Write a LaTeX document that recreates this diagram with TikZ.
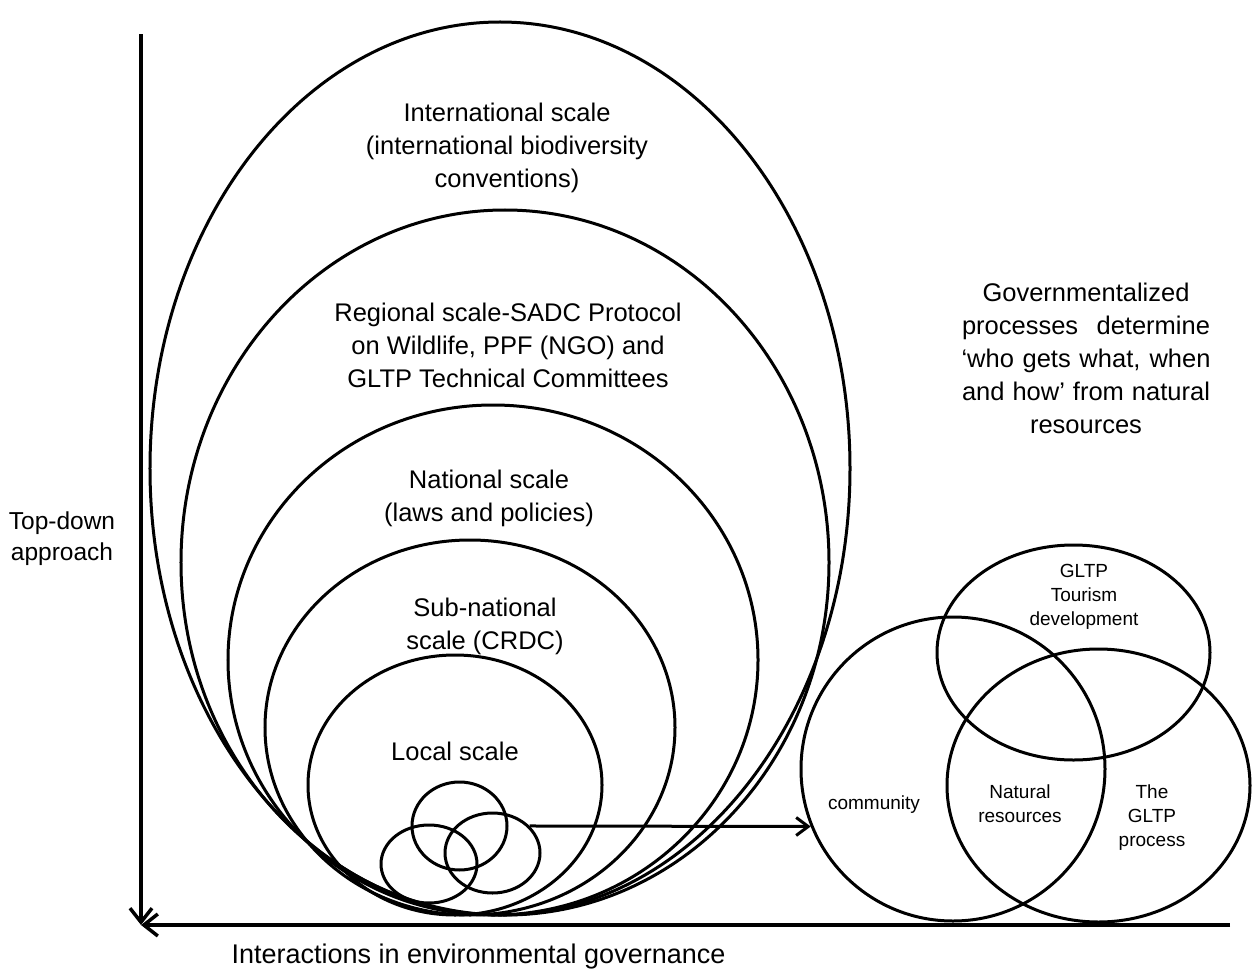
\documentclass[tikz,border=0pt]{standalone}
\usepackage{fontspec}
\setmainfont{Liberation Sans}
\usetikzlibrary{shapes.geometric,arrows.meta}
% a line spread to a given width
\newcommand{\spreadline}[2]{\makebox[#1bp][s]{#2}}
\begin{document}
\begin{tikzpicture}[x={(1bp,0)}, y={(0,-1bp)},
  ring/.style={draw, ellipse, line width=3bp, inner sep=0pt},
  bigtext/.style={align=center, font=\fontsize{25.5bp}{33bp}\selectfont, inner sep=0pt},
  sidetext/.style={align=center, font=\fontsize{24.5bp}{31bp}\selectfont, inner sep=0pt},
  smalltext/.style={align=center, font=\fontsize{19bp}{24bp}\selectfont, inner sep=0pt},
  axisline/.style={line width=3.5bp, -{Straight Barb[length=14bp,width=22bp,line width=3.5bp]}},
  link/.style={line width=3bp, -{Straight Barb[length=12bp,width=18bp,line width=3bp]}}]
\useasboundingbox (0,0) rectangle (1255,975);

% nested governance scales
\node[ring, minimum width=700bp, minimum height=893bp] (intl) at (500,468.5) {};
\node[ring, minimum width=648bp, minimum height=705bp] (regl) at (505,562.5) {};
\node[ring, minimum width=530bp, minimum height=510bp] (natl) at (493,660) {};
\node[ring, minimum width=410bp, minimum height=375bp] (subn) at (470,727.5) {};
\node[ring, minimum width=294bp, minimum height=260bp] (locl) at (455,785) {};

% small circles inside the local scale
\node[ring, minimum width=95bp, minimum height=88bp] (tc) at (459.5,826) {};
\node[ring, minimum width=96bp, minimum height=78bp] (lc) at (429,864) {};
\node[ring, minimum width=95bp, minimum height=80bp] (rc) at (492.5,853) {};

% scale labels
\node[bigtext] (tintl) at (507,148) {International scale\\(international biodiversity\\conventions)};
\node[bigtext] (tregl) at (508,345) {Regional scale-SADC Protocol\\on Wildlife, PPF (NGO) and\\GLTP Technical Committees};
\node[bigtext] (tnatl) at (489,498) {National scale\\(laws and policies)};
\node[bigtext] (tsubn) at (485,626) {Sub-national\\scale (CRDC)};
\node[bigtext] (tlocl) at (455,751) {Local scale};

% Venn diagram of governmentalized processes
\node[ring, minimum width=304bp, minimum height=304bp] (comm) at (953,769) {};
\node[ring, minimum width=273bp, minimum height=215bp] (tour) at (1073.5,652.5) {};
\node[ring, minimum width=303bp, minimum height=273bp] (proc) at (1098.5,785.5) {};

\node[smalltext] (ttour) at (1084,597) {GLTP\\Tourism\\development};
\node[smalltext] (tcomm) at (874,805) {community};
\node[smalltext] (tnat) at (1020,804) {Natural\\resources};
\node[smalltext] (tproc) at (1152,818) {The\\GLTP\\process};

\node[bigtext] (tgov) at (1086,358) {Governmentalized\\\spreadline{248}{processes determine}\\\spreadline{249}{‘who gets what, when}\\\spreadline{248}{and how’ from natural}\\resources};

% axes
\coordinate (ytop) at (141,34);
\coordinate (origin) at (141,925);
\coordinate (xend) at (1230,925);
\draw[axisline] (ytop) -- (origin);
\draw[axisline] (xend) -- (origin);
\node[sidetext] (tyax) at (62,539) {Top-down\\approach};
\node[align=center, inner sep=0pt, font=\fontsize{27bp}{33bp}\selectfont] (txax) at (478.5,957) {Interactions in environmental governance};

% link from the local circles to the Venn diagram
\draw[link] (rc.36) -- (comm.202.4);
\end{tikzpicture}
\end{document}
